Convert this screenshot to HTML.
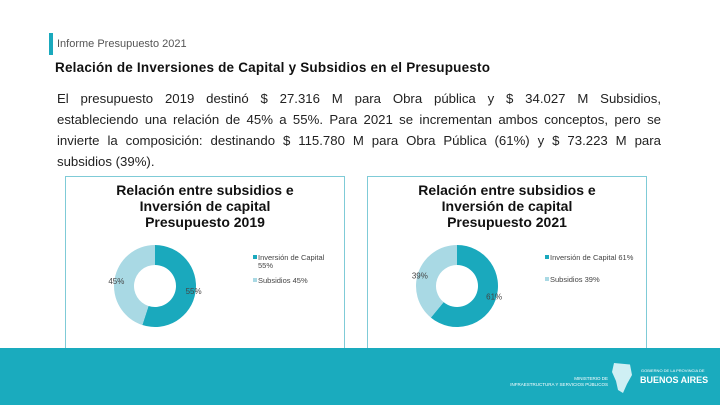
<!DOCTYPE html>
<html><head><meta charset="utf-8"><style>
body{margin:0;width:720px;height:405px;overflow:hidden;background:#fff;font-family:"Liberation Sans",sans-serif;position:relative}
.abs{position:absolute}
p{margin:0}
.ln{text-align:justify;text-align-last:justify;height:21px;white-space:normal}
</style></head><body>
<div class="abs" style="left:49px;top:33px;width:4px;height:22px;background:#1aa9bd"></div>
<div class="abs" style="left:57px;top:38px;font-size:11px;color:#555">Informe Presupuesto 2021</div>
<div class="abs" style="left:55px;top:60px;font-size:13.5px;font-weight:bold;color:#111;letter-spacing:0.2px">Relación de Inversiones de Capital y Subsidios en el Presupuesto</div>
<div class="abs" style="left:57px;top:88px;width:604px;font-size:13.2px;line-height:21px;color:#222">
<div class="ln">El presupuesto 2019 destinó $ 27.316 M para Obra pública y $ 34.027 M Subsidios,</div>
<div class="ln">estableciendo una relación de 45% a 55%. Para 2021 se incrementan ambos conceptos, pero se</div>
<div class="ln">invierte la composición: destinando $ 115.780 M para Obra Pública (61%) y $ 73.223 M para</div>
<div>subsidios (39%).</div>
</div>

<svg class="abs" style="left:0;top:0" width="720" height="405" id="svg"></svg>

<div class="abs" style="left:0;top:348px;width:720px;height:57px;background:#1aabbe"></div>
<div class="abs" style="left:498px;top:376px;font-size:4.5px;color:#fff;text-align:right;line-height:6px;width:110px">MINISTERIO DE<br>INFRAESTRUCTURA Y SERVICIOS PÚBLICOS</div>
<div class="abs" style="left:612px;top:363px;width:20px;height:30px;background:#cfeff4;clip-path:polygon(10% 0,90% 5%,100% 40%,75% 70%,55% 100%,30% 90%,20% 60%,0 30%)"></div>
<div class="abs" style="left:641px;top:368px;font-size:4px;color:#fff;white-space:nowrap">GOBIERNO DE LA PROVINCIA DE</div>
<div class="abs" style="left:640px;top:375px;font-size:9px;font-weight:bold;color:#fff;white-space:nowrap">BUENOS AIRES</div>

<script>
const years=["2019","2021"];
const capital=[55,61];
const subsidios=[45,39];
const legendCap=["Inversión de Capital 55%","Inversión de Capital 61%"];
const legendSub=["Subsidios 45%","Subsidios 39%"];
const svg=document.getElementById('svg');
const NS='http://www.w3.org/2000/svg';
function mk(t,a){const e=document.createElementNS(NS,t);for(const k in a)e.setAttribute(k,a[k]);svg.appendChild(e);return e;}
const panels=[{x:65,cx:155,lx:253},{x:367,cx:457,lx:545}];
const cy=286,R=41,r=21;
function arc(cx,a0,a1){
  const p=(a,rr)=>[cx+rr*Math.sin(a),cy-rr*Math.cos(a)];
  const [x0,y0]=p(a0,R),[x1,y1]=p(a1,R),[x2,y2]=p(a1,r),[x3,y3]=p(a0,r);
  const lg=(a1-a0)>Math.PI?1:0;
  return `M${x0},${y0}A${R},${R} 0 ${lg} 1 ${x1},${y1}L${x2},${y2}A${r},${r} 0 ${lg} 0 ${x3},${y3}Z`;
}
years.forEach((y,i)=>{
  const P=panels[i];
  const box=mk('rect',{x:P.x+0.5,y:176.5,width:279,height:175,fill:'#fff',stroke:'#7fcbd7','stroke-width':1});
  
  
  ['Relación entre subsidios e','Inversión de capital','Presupuesto '+y].forEach((t,j)=>{
    const tx=mk('text',{x:P.x+140,y:195+j*16,'text-anchor':'middle','font-size':14,'font-weight':'bold',fill:'#111','font-family':'Liberation Sans'});
    tx.textContent=t;
    
    
  });
  const tot=capital[i]+subsidios[i];
  const aCap=capital[i]/tot*2*Math.PI;
  const s1=mk('path',{d:arc(P.cx,0,aCap),fill:'#1aa9bd'});
  
  
  const s2=mk('path',{d:arc(P.cx,aCap,2*Math.PI),fill:'#a9d9e4'});
  
  
  const lr=(R+r)/2;
  const mc=aCap/2, ms=(aCap+2*Math.PI)/2;
  const l1=mk('text',{x:P.cx+lr*Math.sin(mc)+8,y:cy-lr*Math.cos(mc)+3,'text-anchor':'middle','font-size':8,fill:'#444'});
  l1.textContent=capital[i]+'%';
  
  
  const l2=mk('text',{x:P.cx+lr*Math.sin(ms)-8,y:cy-lr*Math.cos(ms)+3,'text-anchor':'middle','font-size':8,fill:'#444'});
  l2.textContent=subsidios[i]+'%';
  
  
  const sq1=mk('rect',{x:P.lx,y:255,width:4,height:4,fill:'#1aa9bd'});
  
  
  const t1=mk('text',{x:P.lx+5,y:260,'font-size':7.5,fill:'#444'});
  if(i===0){t1.textContent='Inversión de Capital';const t1b=mk('text',{x:P.lx+5,y:268,'font-size':7.5,fill:'#444'});t1b.textContent=capital[i]+'%';}
  else t1.textContent=legendCap[i];
  
  
  const ly=i===0?282:281;
  const sq2=mk('rect',{x:P.lx,y:ly-4,width:4,height:4,fill:'#a9d9e4'});
  
  
  const t2=mk('text',{x:P.lx+5,y:ly+1,'font-size':7.5,fill:'#444'});
  t2.textContent=legendSub[i];
  
  
});
</script>
</body></html>
